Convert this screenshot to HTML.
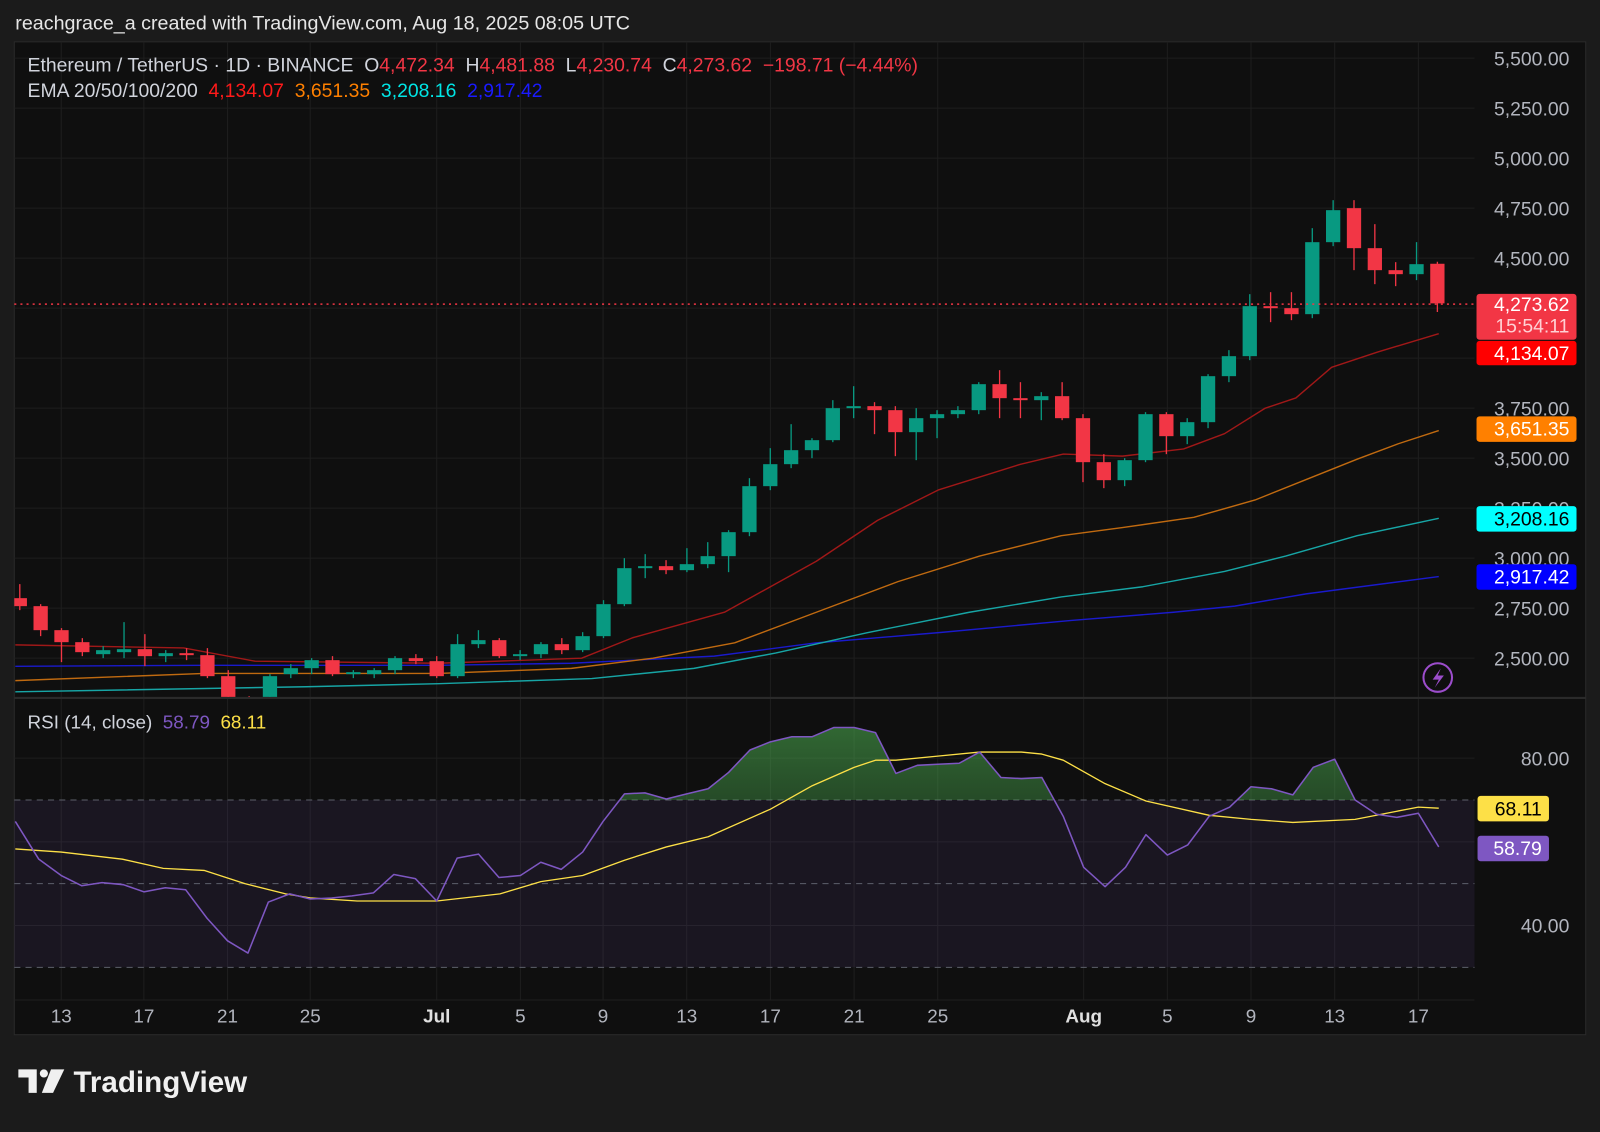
<!DOCTYPE html>
<html><head><meta charset="utf-8"><style>
body{margin:0;background:#1b1b1b;width:1600px;height:1127px;overflow:hidden;font-family:"Liberation Sans",sans-serif}
svg text{font-family:"Liberation Sans",sans-serif}
</style></head><body>
<svg width="1600" height="1127" xmlns="http://www.w3.org/2000/svg">
<rect x="0" y="0" width="1600" height="1127" fill="#1b1b1b"/>
<g transform="scale(1.0204)">
<text x="15" y="29" fill="#e6e6e6" font-size="19.3">reachgrace_a created with TradingView.com, Aug 18, 2025 08:05 UTC</text>
<rect x="14" y="41" width="1540" height="973" fill="#0f0f0f" stroke="#2a2a2a"/>
<g id="grid" stroke="#1e1e1e" stroke-width="1"></g>
<rect x="14" y="784" width="1431" height="164" fill="#7e57c2" fill-opacity="0.1"/>
<g stroke="#5d606b" stroke-dasharray="6,5" stroke-width="1">
<line x1="14" y1="784" x2="1445" y2="784"/><line x1="14" y1="866" x2="1445" y2="866"/><line x1="14" y1="948" x2="1445" y2="948"/></g>
<line x1="14" y1="684" x2="1554" y2="684" stroke="#2a2a2a" stroke-width="2"/>
<line x1="14" y1="980" x2="1445" y2="980" stroke="#1f1f1f"/>
<g id="ema"></g>
<clipPath id="pc"><rect x="14" y="41" width="1431" height="642"/></clipPath>
<clipPath id="ob"><rect x="14" y="690" width="1431" height="94"/></clipPath>
<linearGradient id="gg" x1="0" y1="0" x2="0" y2="1"><stop offset="0" stop-color="#4caf50" stop-opacity="0.55"/><stop offset="1" stop-color="#4caf50" stop-opacity="0"/></linearGradient>
<g id="candles" clip-path="url(#pc)"></g>
<line x1="14" y1="298" x2="1445" y2="298" stroke="#f23645" stroke-dasharray="2,4" stroke-width="1.5"/>
<g id="rsi"></g>
<g font-size="19" fill="#b2b5be" text-anchor="end">
<text x="1538" y="64">5,500.00</text><text x="1538" y="113">5,250.00</text><text x="1538" y="162">5,000.00</text><text x="1538" y="211">4,750.00</text><text x="1538" y="260">4,500.00</text><text x="1538" y="407">3,750.00</text><text x="1538" y="456">3,500.00</text><text x="1538" y="505">3,250.00</text><text x="1538" y="554">3,000.00</text><text x="1538" y="603">2,750.00</text><text x="1538" y="652">2,500.00</text>
<text x="1538" y="750">80.00</text><text x="1538" y="914">40.00</text></g>
<rect x="1447" y="288" width="98" height="45" rx="3" fill="#f23645"/>
<text x="1538" y="305" fill="#fff" font-size="19" text-anchor="end">4,273.62</text>
<text x="1538" y="326" fill="#ffd0d4" font-size="19" text-anchor="end">15:54:11</text>
<rect x="1447" y="334" width="98" height="24" rx="3" fill="#ff0000"/><text x="1538" y="353" fill="#fff" font-size="19" text-anchor="end">4,134.07</text>
<rect x="1447" y="408" width="98" height="25" rx="3" fill="#ff8000"/><text x="1538" y="427" fill="#fff" font-size="19" text-anchor="end">3,651.35</text>
<rect x="1447" y="496" width="98" height="25" rx="3" fill="#00ffff"/><text x="1538" y="515" fill="#000" font-size="19" text-anchor="end">3,208.16</text>
<rect x="1447" y="553" width="98" height="25" rx="3" fill="#0000ff"/><text x="1538" y="572" fill="#fff" font-size="19" text-anchor="end">2,917.42</text>
<rect x="1448" y="780" width="70" height="25" rx="3" fill="#fde047"/><text x="1511" y="799" fill="#000" font-size="19" text-anchor="end">68.11</text>
<rect x="1448" y="819" width="70" height="25" rx="3" fill="#7e57c2"/><text x="1511" y="838" fill="#fff" font-size="19" text-anchor="end">58.79</text>
<text x="27" y="70" font-size="19" fill="#d1d4dc" xml:space="preserve">Ethereum / TetherUS · 1D · BINANCE  O<tspan fill="#f23645">4,472.34</tspan>  H<tspan fill="#f23645">4,481.88</tspan>  L<tspan fill="#f23645">4,230.74</tspan>  C<tspan fill="#f23645">4,273.62</tspan>  <tspan fill="#f23645">−198.71 (−4.44%)</tspan></text>
<text x="27" y="95" font-size="19" fill="#d1d4dc" xml:space="preserve">EMA 20/50/100/200  <tspan fill="#ff1a1a">4,134.07</tspan>  <tspan fill="#ff8000">3,651.35</tspan>  <tspan fill="#00e5e5">3,208.16</tspan>  <tspan fill="#1a1aff">2,917.42</tspan></text>
<text x="27" y="714" font-size="18.5" fill="#d1d4dc" xml:space="preserve">RSI (14, close)  <tspan fill="#7e57c2">58.79</tspan>  <tspan fill="#fde047">68.11</tspan></text>
<g font-size="18.5" fill="#b2b5be" text-anchor="middle">
<text x="60" y="1002">13</text><text x="141" y="1002">17</text><text x="223" y="1002">21</text><text x="304" y="1002">25</text><text x="428" y="1002" fill="#e0e0e0" font-weight="bold">Jul</text><text x="510" y="1002">5</text><text x="591" y="1002">9</text><text x="673" y="1002">13</text><text x="755" y="1002">17</text><text x="837" y="1002">21</text><text x="919" y="1002">25</text><text x="1062" y="1002" fill="#e0e0e0" font-weight="bold">Aug</text><text x="1144" y="1002">5</text><text x="1226" y="1002">9</text><text x="1308" y="1002">13</text><text x="1390" y="1002">17</text></g>
<circle cx="1409" cy="664" r="14" fill="none" stroke="#9c4dcc" stroke-width="2"/>
<path d="M1412 655 L1404 666 L1410 666 L1406 674 L1415 662 L1409 662 Z" fill="#9c4dcc"/>
<g fill="#f0f0f0"><path d="M18 1048 h18 v23 h-8 v-15 h-10 z"/><circle cx="43" cy="1052" r="4"/><path d="M50 1048 h13 l-11 23 h-11 z"/></g>
<text x="72" y="1070" font-size="29" font-weight="bold" fill="#f0f0f0">TradingView</text>
</g>
</svg>
<script>
const NS="http://www.w3.org/2000/svg";
function el(p,t,a){const e=document.createElementNS(NS,t);for(const k in a)e.setAttribute(k,a[k]);p.appendChild(e);return e;}
const Y=p=>57+(5500-p)*0.196;
const g=document.getElementById('grid');
[57,106,155,204,253,302,351,400,449,498,547,596,645,743,825,907].forEach(y=>el(g,'line',{x1:14,y1:y,x2:1445,y2:y}));
[60,141,223,304,428,510,591,673,755,837,919,1062,1144,1226,1308,1390].forEach(x=>el(g,'line',{x1:x,y1:41,x2:x,y2:980}));
const d=[[2800,2870,2740,2760],[2760,2770,2610,2640],[2640,2650,2480,2580],[2580,2600,2510,2530],[2520,2560,2500,2540],[2530,2680,2500,2545],[2545,2620,2460,2510],[2510,2540,2480,2525],[2525,2550,2490,2515],[2515,2550,2400,2410],[2410,2440,2240,2300],[2300,2310,2110,2230],[2230,2420,2200,2410],[2420,2470,2400,2450],[2450,2500,2420,2490],[2490,2510,2410,2420],[2420,2440,2400,2430],[2420,2450,2400,2440],[2440,2510,2420,2500],[2500,2520,2470,2485],[2485,2510,2400,2410],[2410,2620,2400,2570],[2570,2640,2550,2590],[2590,2600,2500,2510],[2510,2540,2490,2520],[2520,2580,2500,2570],[2570,2600,2520,2540],[2540,2630,2530,2610],[2610,2790,2600,2770],[2770,3000,2760,2950],[2950,3020,2900,2960],[2960,2990,2920,2940],[2940,3050,2930,2970],[2970,3080,2950,3010],[3010,3140,2930,3130],[3130,3400,3110,3360],[3360,3550,3340,3470],[3470,3670,3450,3540],[3540,3600,3500,3590],[3590,3790,3580,3750],[3750,3860,3700,3760],[3760,3780,3620,3740],[3740,3760,3510,3630],[3630,3750,3490,3700],[3700,3740,3600,3720],[3720,3760,3700,3740],[3740,3880,3720,3870],[3870,3940,3700,3800],[3800,3880,3700,3790],[3790,3830,3690,3810],[3810,3880,3690,3700],[3700,3720,3380,3480],[3480,3520,3350,3390],[3390,3500,3360,3490],[3490,3730,3480,3720],[3720,3730,3520,3610],[3610,3700,3570,3680],[3680,3920,3650,3910],[3910,4040,3880,4010],[4010,4320,3990,4260],[4260,4330,4180,4250],[4250,4330,4190,4220],[4220,4650,4200,4580],[4580,4790,4560,4740],[4750,4790,4440,4550],[4550,4670,4370,4440],[4440,4480,4360,4420],[4420,4580,4390,4470],[4472,4482,4231,4274]];
const c=document.getElementById('candles');
d.forEach((k,i)=>{const x=428+(i-20)*20.43;const up=k[3]>=k[0];const col=up?'#089981':'#f23645';
el(c,'line',{x1:x,y1:Y(k[1]),x2:x,y2:Y(k[2]),stroke:col,'stroke-width':1.3});
const t=Y(Math.max(k[0],k[3])),b=Y(Math.min(k[0],k[3]));el(c,'rect',{x:x-7,y:t,width:14,height:Math.max(1.5,b-t),fill:col});});
const E=document.getElementById('ema');
function pl(par,pts,col,w){el(par,'polyline',{points:pts.map(p=>p.join(',')).join(' '),fill:'none',stroke:col,'stroke-width':w||1.4,'stroke-linejoin':'round'});}
pl(E,[[15,653],[200,652],[430,652],[560,650],[700,643],[800,630],[920,620],[1050,608],[1150,600],[1210,594],[1280,582],[1410,565]],'#1a1acc');
pl(E,[[15,678],[300,673],[430,670],[580,665],[680,655],[760,640],[850,620],[950,600],[1040,585],[1120,575],[1200,560],[1260,545],[1330,525],[1410,508]],'#17a5a5');
pl(E,[[15,667],[200,660],[430,660],[560,655],[640,645],[720,630],[800,600],[880,570],[960,545],[1040,525],[1100,517],[1170,507],[1230,490],[1280,470],[1330,450],[1370,435],[1410,422]],'#c06a10');
pl(E,[[15,632],[180,635],[250,648],[430,650],[570,645],[620,625],[710,600],[800,550],[860,510],[920,480],[1000,455],[1042,445],[1100,447],[1160,440],[1200,425],[1240,400],[1270,390],[1305,360],[1350,345],[1410,327]],'#a01818');
const R=[[15,805],[38,842],[60,858],[80,868],[100,865],[121,867],[141,874],[162,870],[182,872],[203,900],[223,922],[243,934],[263,884],[284,876],[304,881],[325,880],[345,878],[366,875],[386,857],[407,861],[428,883],[448,841],[469,837],[489,860],[510,858],[530,845],[550,852],[571,835],[591,805],[612,778],[632,777],[653,783],[673,778],[694,773],[714,757],[735,735],[755,727],[776,722],[796,722],[817,713],[837,713],[858,718],[878,758],[899,750],[919,749],[940,748],[960,737],[981,762],[1001,763],[1021,762],[1042,800],[1062,850],[1083,869],[1103,850],[1123,818],[1144,838],[1164,828],[1185,800],[1205,791],[1226,771],[1246,773],[1267,779],[1287,752],[1308,744],[1328,784],[1349,798],[1369,801],[1390,797],[1410,830]];
const rg=document.getElementById('rsi');
el(rg,'path',{d:'M15,784 '+R.map(p=>'L'+p.join(',')).join(' ')+' L1410,784 Z',fill:'url(#gg)','clip-path':'url(#ob)'});
pl(rg,[[15,832],[60,835],[120,842],[160,851],[200,853],[240,866],[280,876],[304,880],[350,883],[428,883],[490,876],[530,864],[571,858],[612,843],[653,830],[694,820],[755,793],[796,770],[837,752],[858,745],[878,745],[919,741],[960,737],[1001,737],[1021,739],[1042,745],[1083,768],[1123,785],[1185,799],[1226,803],[1267,806],[1328,803],[1369,795],[1390,791],[1410,792]],'#fde047',1.3);
pl(rg,R,'#7e57c2',1.5);
</script>
</body></html>
